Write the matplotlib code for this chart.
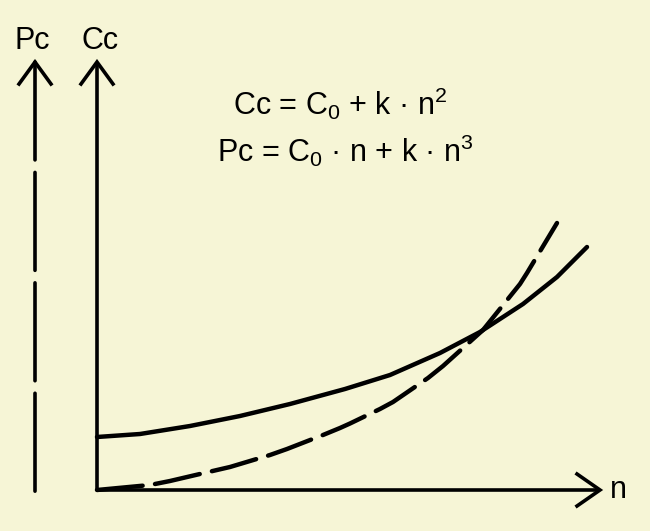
import matplotlib
matplotlib.use("Agg")
import matplotlib.pyplot as plt

plt.rcParams['font.family'] = ['Liberation Sans', 'DejaVu Sans']
plt.rcParams['mathtext.fontset'] = 'custom'
plt.rcParams['mathtext.rm'] = 'Liberation Sans'
plt.rcParams['mathtext.it'] = 'Liberation Sans'
plt.rcParams['lines.scale_dashes'] = False

# Values (n along the horizontal axis)
n_cc = [0, 0.43, 0.93, 1.43, 1.93, 2.26, 2.48, 2.93, 3.43, 3.83, 4.26, 4.60, 4.90]
cc = [0.53, 0.56, 0.64, 0.74, 0.86, 0.95, 1.01, 1.15, 1.37, 1.58, 1.86, 2.13, 2.43]

n_pc = [0, 0.53, 0.73, 1.20, 1.33, 1.73, 1.90, 2.26, 2.43, 2.53, 2.83, 2.96,
        3.31, 3.46, 3.76, 3.86, 4.23, 4.30, 4.60]
pc = [0, 0.05, 0.09, 0.20, 0.23, 0.35, 0.41, 0.55, 0.62, 0.665, 0.81, 0.88,
      1.12, 1.24, 1.51, 1.60, 2.06, 2.17, 2.67]

bg = '#f6f5d6'
fig = plt.figure(figsize=(6.5, 5.31), dpi=100, facecolor=bg)
ax = fig.add_axes([0, 0, 1, 1], facecolor=bg)
ax.set_xlim(-0.97, 5.53)
ax.set_ylim(-0.41, 4.90)
ax.axis('off')

# axes
lw_ax = 2.6
top = 4.28
x_pc = -0.62
x_end = 5.03
ax.plot([0, 0], [0, top], color='k', lw=lw_ax, solid_capstyle='butt')
ax.plot([0, x_end], [0, 0], color='k', lw=lw_ax, solid_capstyle='butt')
ax.plot([x_pc, x_pc], [top, -0.02], color='k', lw=lw_ax,
        linestyle=(0, (70.5, 9.0)), dash_capstyle='round')

# arrow heads (open chevrons)
hw, hl = 0.16, 0.22
for xa in (0, x_pc):
    ax.plot([xa - hw, xa, xa + hw], [top - hl, top, top - hl], color='k',
            lw=lw_ax, solid_joinstyle='miter')
ax.plot([x_end - 0.23, x_end, x_end - 0.23], [0.16, 0, -0.16], color='k',
        lw=lw_ax, solid_joinstyle='miter')

# curves
ax.plot(n_cc, cc, color='k', lw=3.2, solid_capstyle='round',
        solid_joinstyle='round')
ax.plot(n_pc, pc, color='k', lw=3.2, linestyle=(0, (33, 9)),
        dash_capstyle='round', dash_joinstyle='round')

# labels
fs = 22
ax.text(x_pc - 0.025, 4.49, 'Pc', fontsize=fs, ha='center', va='center')
ax.text(0.03, 4.49, 'Cc', fontsize=fs, ha='center', va='center')
ax.text(5.21, -0.08, 'n', fontsize=fs, ha='center', va='baseline')
ax.text(2.43, 3.75, r'Cc = C$_0$ + k · n$^2$', fontsize=fs, ha='center',
        va='baseline')
ax.text(2.48, 3.28, r'Pc = C$_0$ · n + k · n$^3$', fontsize=fs, ha='center',
        va='baseline')

fig.savefig('out.png', dpi=100, facecolor=bg)
